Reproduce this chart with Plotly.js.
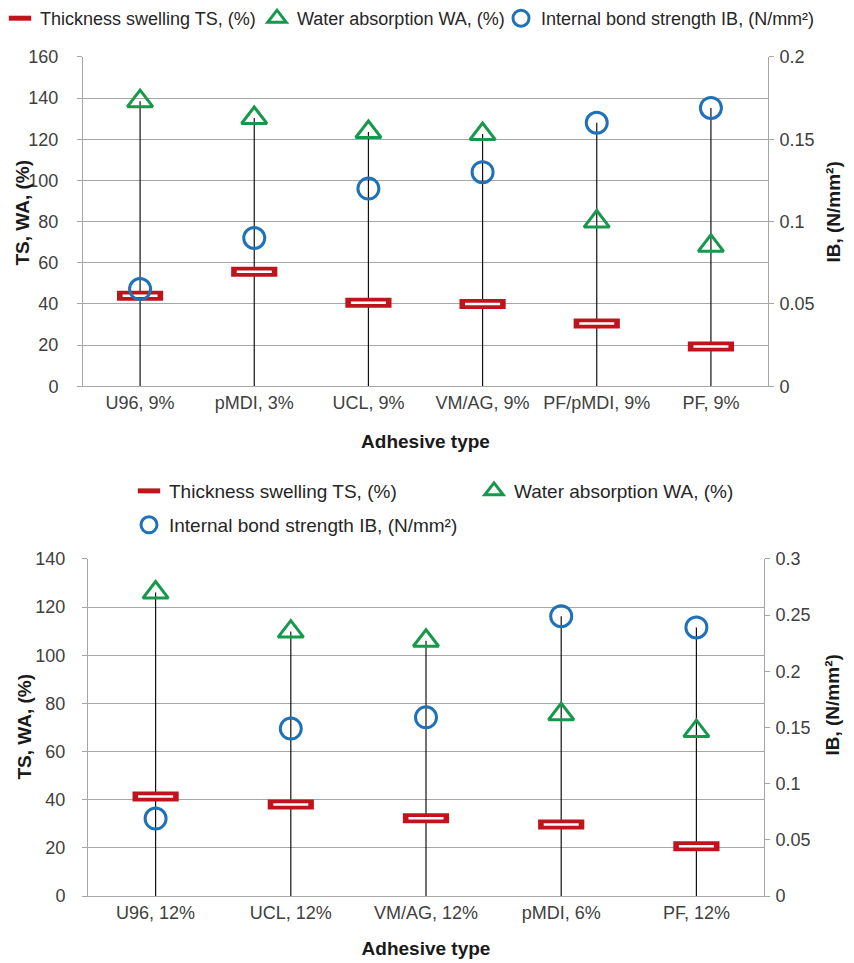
<!DOCTYPE html>
<html>
<head>
<meta charset="utf-8">
<script src="https://cdn.plot.ly/plotly-3.0.1.min.js"></script>
<style>html,body{margin:0;padding:0;background:#fff;}#chart{width:854px;height:963px;}</style>
</head>
<body>
<div id="chart"></div>
<script>
// ---- Data: top chart (9% / 3% adhesive levels) ----
var catsTop = ["U96, 9%", "pMDI, 3%", "UCL, 9%", "VM/AG, 9%", "PF/pMDI, 9%", "PF, 9%"];
var tsTop = [44, 55.6, 40.5, 40, 30.5, 19.3];
var waTop = [138.5, 130.3, 123.5, 122.5, 80, 68.2];
var ibTop = [0.059, 0.09, 0.12, 0.13, 0.16, 0.169];

// ---- Data: bottom chart (12% / 6% adhesive levels) ----
var catsBot = ["U96, 12%", "UCL, 12%", "VM/AG, 12%", "pMDI, 6%", "PF, 12%"];
var tsBot = [41.4, 38, 32.3, 29.7, 20.7];
var waBot = [126, 109.8, 106, 75.5, 68.5];
var ibBot = [0.069, 0.149, 0.159, 0.249, 0.239];

var seriesNames = ["Thickness swelling TS, (%)", "Water absorption WA, (%)", "Internal bond strength IB, (N/mm²)"];
var xTitle = "Adhesive type";
var yLeftTitle = "TS, WA, (%)";
var yRightTitle = "IB, (N/mm²)";

var leftRangeTop = [0, 160], rightRangeTop = [0, 0.2];
var leftRangeBot = [0, 140], rightRangeBot = [0, 0.3];

var RED = "#c0141c", GREEN = "#16994a", BLUE = "#1f72b8";
var FONT = "Liberation Sans, Arial, sans-serif";
var W = 854, H = 963;

function dropLines(cats, wa, ib, ts, ratio) {
  var xs = [], ys = [];
  for (var i = 0; i < cats.length; i++) {
    var top = Math.max(wa[i], ib[i] * ratio, ts[i]);
    xs.push(cats[i], cats[i], null);
    ys.push(0, top, null);
  }
  return {xs: xs, ys: ys};
}

function buildTraces(cats, ts, wa, ib, xa, ya, ya2, ratio, legs) {
  var d = dropLines(cats, wa, ib, ts, ratio);
  return [
    {x: d.xs, y: d.ys, xaxis: xa, yaxis: ya, mode: "lines", type: "scatter",
     line: {color: "#111111", width: 1.2}, showlegend: false, hoverinfo: "skip", legend: legs[0]},
    {x: cats, y: ts, xaxis: xa, yaxis: ya, mode: "markers", type: "scatter",
     name: seriesNames[0], legend: legs[0],
     marker: {symbol: "line-ew", size: 33, color: RED, line: {color: RED, width: 10}}},
    {x: cats, y: ts, xaxis: xa, yaxis: ya, mode: "markers", type: "scatter",
     showlegend: false, hoverinfo: "skip", legend: legs[0],
     marker: {symbol: "line-ew", size: 25, color: "#ffffff", line: {color: "#ffffff", width: 2.5}}},
    {x: cats, y: wa, xaxis: xa, yaxis: ya, mode: "markers", type: "scatter",
     name: seriesNames[1], legend: legs[1],
     marker: {symbol: "triangle-up-open", size: 22, color: GREEN, line: {color: GREEN, width: 3}}},
    {x: cats, y: ib, xaxis: xa, yaxis: ya2, mode: "markers", type: "scatter",
     name: seriesNames[2], legend: legs[2],
     marker: {symbol: "circle-open", size: 21, color: BLUE, line: {color: BLUE, width: 3}}}
  ];
}

var traces = []
  .concat(buildTraces(catsTop, tsTop, waTop, ibTop, "x", "y", "y2",
          leftRangeTop[1] / rightRangeTop[1], ["legend", "legend3", "legend4"]))
  .concat(buildTraces(catsBot, tsBot, waBot, ibBot, "x3", "y3", "y4",
          leftRangeBot[1] / rightRangeBot[1], ["legend2", "legend5", "legend6"]));

var tickFont = {family: FONT, size: 18, color: "#404040"};
var titleFont = {family: FONT, size: 19, color: "#1a1a1a", weight: "bold"};
var AX = "#a6a6a6";

function xAxis(domain, anchor, n, standoff) {
  return {domain: domain, anchor: anchor, type: "category", range: [-0.5, n - 0.5],
    showline: true, linecolor: AX, linewidth: 1, showgrid: false, zeroline: false,
    ticks: "", tickfont: tickFont, fixedrange: true,
    title: {text: "<b>" + xTitle + "</b>", font: titleFont, standoff: standoff}};
}
function yAxis(domain, anchor, range, dtick, standoff) {
  return {domain: domain, anchor: anchor, range: range, dtick: dtick,
    showline: true, linecolor: AX, linewidth: 1, showgrid: true, gridcolor: AX, gridwidth: 1,
    zeroline: false, ticks: "outside", ticklen: 5, tickcolor: AX, tickfont: tickFont,
    ticklabelstandoff: standoff};
}
function y2Axis(overlay, anchor, range, dtick) {
  return {overlaying: overlay, side: "right", anchor: anchor,
    range: range, dtick: dtick, showline: true, linecolor: AX, linewidth: 1, showgrid: false,
    zeroline: false, ticks: "outside", ticklen: 5, tickcolor: AX, tickfont: tickFont,
    ticklabelstandoff: 2};
}
function leg(textX, rowCenterY, size) {
  return {orientation: "h", x: Math.max(0, textX - 41) / W, y: 1 - (rowCenterY - 19) / H,
    xanchor: "left", yanchor: "top", itemwidth: 30, bgcolor: "rgba(0,0,0,0)",
    font: {family: FONT, size: size, color: "#262626"}};
}
function yTitle(text, px, py) {
  return {text: "<b>" + text + "</b>", xref: "paper", yref: "paper", x: px / W, y: 1 - py / H,
    xanchor: "center", yanchor: "middle", textangle: -90, showarrow: false, font: titleFont};
}

var layout = {
  width: W, height: H,
  margin: {l: 0, r: 0, t: 0, b: 0},
  paper_bgcolor: "#ffffff", plot_bgcolor: "#ffffff",
  font: {family: FONT, size: 18, color: "#404040"},
  showlegend: true,
  xaxis: xAxis([83/W, 768/W], "y", catsTop.length, 22),
  yaxis: yAxis([(H-385)/H, (H-55)/H], "x", leftRangeTop, 20, 15),
  yaxis2: y2Axis("y", "x", rightRangeTop, 0.05),
  xaxis3: xAxis([88/W, 764/W], "y3", catsBot.length, 19),
  yaxis3: yAxis([(H-896)/H, (H-558)/H], "x3", leftRangeBot, 20, 13),
  yaxis4: y2Axis("y3", "x3", rightRangeBot, 0.05),
  legend: leg(36, 17, 18),
  legend3: leg(298, 17, 18),
  legend4: leg(542, 17, 18),
  legend2: leg(170, 490, 19),
  legend5: leg(515, 490, 19),
  legend6: leg(170, 524, 19),
  annotations: [
    yTitle(yLeftTitle, 23, 211),
    yTitle(yRightTitle, 834, 211),
    yTitle(yLeftTitle, 24, 726),
    yTitle(yRightTitle, 833, 705)
  ]
};

Plotly.newPlot("chart", traces, layout, {displayModeBar: false, staticPlot: true});
</script>
</body>
</html>
